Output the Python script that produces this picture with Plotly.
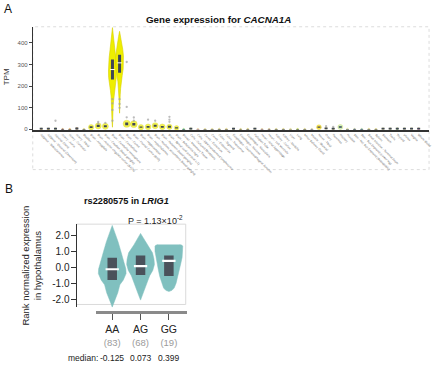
import plotly.graph_objects as go

W, H = 440, 365
def px(x): return x / W
def py(y): return 1 - y / H

FONT = "Liberation Sans, Arial, sans-serif"

# ---------------- Panel A data (GTEx, CACNA1A) ----------------
tissues = [
    "Adipose - Subcutaneous", "Adipose - Visceral (Omentum)", "Adrenal Gland",
    "Artery - Aorta", "Artery - Coronary", "Artery - Tibial", "Bladder",
    "Brain - Amygdala", "Brain - Anterior cingulate cortex (BA24)",
    "Brain - Caudate (basal ganglia)", "Brain - Cerebellar Hemisphere",
    "Brain - Cerebellum", "Brain - Cortex", "Brain - Frontal Cortex (BA9)",
    "Brain - Hippocampus", "Brain - Hypothalamus",
    "Brain - Nucleus accumbens (basal ganglia)", "Brain - Putamen (basal ganglia)",
    "Brain - Spinal cord (cervical c-1)", "Brain - Substantia nigra",
    "Breast - Mammary Tissue", "Cells - Cultured fibroblasts",
    "Cells - EBV-transformed lymphocytes", "Cervix - Ectocervix",
    "Cervix - Endocervix", "Colon - Sigmoid", "Colon - Transverse",
    "Esophagus - Gastroesophageal Junction", "Esophagus - Mucosa",
    "Esophagus - Muscularis", "Fallopian Tube", "Heart - Atrial Appendage",
    "Heart - Left Ventricle", "Kidney - Cortex", "Kidney - Medulla", "Liver",
    "Lung", "Minor Salivary Gland", "Muscle - Skeletal", "Nerve - Tibial",
    "Ovary", "Pancreas", "Pituitary", "Prostate",
    "Skin - Not Sun Exposed (Suprapubic)", "Skin - Sun Exposed (Lower leg)",
    "Small Intestine - Terminal Ileum", "Spleen", "Stomach", "Testis",
    "Thyroid", "Uterus", "Vagina", "Whole Blood",
]
tissue_colors = (
    ["#FFA54F", "#EE9A00", "#8FBC8F", "#8B1C62", "#EE6A50", "#FF0000", "#CDB79E"]
    + ["#EEEE00"] * 13
    + ["#00CDCD", "#9AC0CD", "#EE82EE", "#EED5D2", "#EED5D2", "#CDB79E", "#EEC591",
       "#8B7355", "#8B7355", "#CDAA7D", "#EED5D2", "#B452CD", "#7A378B", "#CDB79E",
       "#CDB79E", "#CDB79E", "#9ACD32", "#CDB79E", "#7A67EE", "#FFD700", "#FFB6C1",
       "#CD9B1D", "#B4EEB4", "#D9D9D9", "#3A5FCD", "#1E90FF", "#CDB79E", "#CDB79E",
       "#FFD39B", "#A6A6A6", "#008B45", "#EED5D2", "#EED5D2", "#FF00FF"]
)
tpm_median = [2, 2, 3, 0.5, 0.5, 4, 0.5,
              10, 16, 14, 277, 308, 26, 24, 10, 12, 17, 12, 12, 7,
              0.8, 3, 0.3, 0.5, 0.5, 0.8, 0.8, 2, 0.3, 0.8, 2, 0.3, 0.3, 0.5, 0.5,
              0.2, 0.5, 0.5, 0.2, 10, 5, 3, 11, 0.8, 0.5, 0.5, 0.8, 0.5, 3, 3, 3, 3, 3, 3]
tpm_q1 = [0, 0, 0, 0, 0, 0, 0,
          6, 11, 10, 231, 262, 19, 18, 7, 8, 12, 8, 8, 4,
          0, 0, 0, 0, 0, 0, 0, 0, 0, 0, 0, 0, 0, 0, 0,
          0, 0, 0, 0, 7, 1, 0, 8, 0, 0, 0, 0, 0, 0, 0, 0, 0, 0, 0]
tpm_q3 = [7, 7, 8, 1.5, 1.5, 9, 1.5,
          14, 22, 19, 323, 346, 32, 30, 13, 16, 22, 16, 17, 10,
          1.5, 8, 1, 1.5, 1.5, 1.5, 1.5, 7, 1, 1.5, 7, 1, 1, 1.5, 1.5,
          1, 1.5, 1.5, 1, 13, 9, 8, 14, 1.5, 1.5, 1.5, 1.5, 1.5, 8, 8, 8, 8, 8, 8]
violin_spread = [3, 3, 3, 2, 2, 3, 2,
                 20, 24, 24, 0, 0, 30, 28, 20, 22, 24, 22, 20, 16,
                 2, 3, 2, 2, 2, 2, 2, 3, 2, 2, 3, 2, 2, 2, 2,
                 2, 2, 2, 2, 18, 3, 3, 18, 2, 2, 2, 2, 2, 3, 3, 3, 3, 3, 3]
outlier_tissue = [2, 8, 8, 9, 10, 10, 10, 10, 11, 11, 11, 12, 12, 12,
                  13, 13, 15, 16, 18, 18, 18, 40, 41]
outlier_tpm = [40, 35, 28, 30, 140, 120, 90, 40, 140, 118, 100, 312, 104,
               56, 55, 40, 45, 40, 58, 45, 35, 15, 12]

# Large cerebellar violins (profile)
hemi_tpm = [471, 445, 410, 370, 330, 300, 270, 240, 210, 180, 150, 120, 90, 60, 30, 10]
hemi_density = [0, 0.19, 0.37, 0.6, 0.84, 0.98, 1.0, 0.96, 0.74, 0.51, 0.33, 0.21,
                0.14, 0.12, 0.09, 0]
cbl_tpm = [454, 430, 400, 370, 340, 310, 280, 250, 220, 190, 160, 130, 100, 75]
cbl_density = [0, 0.25, 0.5, 0.8, 0.97, 1.0, 0.9, 0.66, 0.42, 0.27, 0.16, 0.1, 0.06, 0]
big_violins = {10: (hemi_tpm, hemi_density), 11: (cbl_tpm, cbl_density)}

# ---------------- Panel B data (rs2280575 / LRIG1) ----------------
genotypes = ["AA", "AG", "GG"]
genotype_n = [83, 68, 19]
geno_median = [-0.125, 0.073, 0.399]
geno_q1 = [-0.80, -0.49, -0.55]
geno_q3 = [0.59, 0.73, 0.73]
aa_y = [2.62, 2.3, 2.0, 1.6, 1.0, 0.6, 0.2, -0.1, -0.4, -0.8, -1.1, -1.6, -2.0, -2.3, -2.5]
aa_density = [0, 0.14, 0.27, 0.42, 0.62, 0.73, 0.88, 0.98, 1.0, 0.8, 0.55, 0.4, 0.22, 0.08, 0]
ag_y = [2.12, 1.8, 1.4, 0.9, 0.5, 0.17, -0.2, -0.53, -0.85, -1.15, -1.5, -1.77, -2.06]
ag_density = [0, 0.22, 0.48, 0.86, 0.97, 1.0, 0.88, 0.66, 0.52, 0.4, 0.25, 0.13, 0]
gg_y = [1.42, 1.38, 1.3, 1.0, 0.6, 0.2, -0.2, -0.6, -1.0, -1.3, -1.45, -1.52]
gg_density = [0.78, 0.95, 1.0, 1.0, 0.95, 0.85, 0.75, 0.65, 0.52, 0.38, 0.22, 0]
geno_profiles = [(aa_y, aa_density), (ag_y, ag_density), (gg_y, gg_density)]

fig = go.Figure()

# ---- Panel A traces ----
A_HALF = 0.56
for idx, (yy, dd) in big_violins.items():
    xs = [idx + d * A_HALF for d in dd] + [idx - d * A_HALF for d in dd[::-1]]
    ys = list(yy) + list(yy[::-1])
    fig.add_trace(go.Scatter(x=xs, y=ys, fill="toself", fillcolor="#EEEE00",
                             line=dict(color="#d6d000", width=0.6), mode="lines",
                             xaxis="x", yaxis="y", hoverinfo="skip"))

small_idx = [i for i in range(len(tissues)) if i not in big_violins]
fig.add_trace(go.Scatter(
    x=small_idx, y=[tpm_median[i] for i in small_idx], mode="markers",
    marker=dict(size=[1.5 + violin_spread[i] * 0.19 for i in small_idx],
                color=[tissue_colors[i] for i in small_idx],
                line=dict(width=0.4, color="#c8c400")),
    xaxis="x", yaxis="y", hoverinfo="skip"))

fig.add_trace(go.Scatter(
    x=outlier_tissue, y=outlier_tpm, mode="markers",
    marker=dict(size=2.3, color="#a0a0a0", opacity=0.7),
    xaxis="x", yaxis="y", hoverinfo="skip"))

bx, by = [], []
for i in range(len(tissues)):
    bx += [i, i, None]
    by += [tpm_q1[i], tpm_q3[i], None]
fig.add_trace(go.Scatter(x=bx, y=by, mode="lines",
                         line=dict(color="#3f4756", width=3),
                         xaxis="x", yaxis="y", hoverinfo="skip"))
wide = [i for i in range(len(tissues)) if tpm_q3[i] - tpm_q1[i] > 20]
fig.add_trace(go.Scatter(x=wide, y=[tpm_median[i] for i in wide], mode="markers",
                         marker=dict(symbol="line-ew", size=3.2,
                                     line=dict(color="white", width=1)),
                         xaxis="x", yaxis="y", hoverinfo="skip"))

# ---- Panel B traces ----
B_HALF = 0.49
for g, (yy, dd) in enumerate(geno_profiles):
    xs = [g + d * B_HALF for d in dd] + [g - d * B_HALF for d in dd[::-1]]
    ys = list(yy) + list(yy[::-1])
    fig.add_trace(go.Scatter(x=xs, y=ys, fill="toself", fillcolor="#80c0bf",
                             line=dict(color="#80c0bf", width=0.5), mode="lines",
                             xaxis="x2", yaxis="y2", hoverinfo="skip"))
gbx, gby = [], []
for g in range(len(genotypes)):
    gbx += [g, g, None]
    gby += [geno_q1[g], geno_q3[g], None]
fig.add_trace(go.Scatter(x=gbx, y=gby, mode="lines",
                         line=dict(color="#4a525b", width=9.5),
                         xaxis="x2", yaxis="y2", hoverinfo="skip"))
fig.add_trace(go.Scatter(x=list(range(len(genotypes))), y=geno_median, mode="markers",
                         marker=dict(symbol="line-ew", size=9.5,
                                     line=dict(color="white", width=2.2)),
                         xaxis="x2", yaxis="y2", hoverinfo="skip"))

# ---- Axes ----
A_y0, A_y1 = 131, 27
B_y0, B_y1 = 310, 226
fig.update_layout(
    width=W, height=H, margin=dict(l=0, r=0, t=0, b=0),
    paper_bgcolor="white", plot_bgcolor="rgba(0,0,0,0)",
    showlegend=False, font=dict(family=FONT, color="#222"),
    xaxis=dict(domain=[px(33), px(432)], range=[-1.19, 54.46], anchor="y",
               tickmode="array", tickvals=list(range(len(tissues))), ticktext=tissues,
               tickangle=45, tickfont=dict(size=3, color="#666"),
               showline=True, linecolor="#333", linewidth=2, ticks="",
               showgrid=False, zeroline=False),
    yaxis=dict(domain=[py(A_y0), py(A_y1)], range=[-2.5, 475], anchor="x",
               tickmode="array", tickvals=[0, 100, 200, 300, 400],
               ticks="outside", ticklen=3, tickcolor="#444",
               tickfont=dict(size=6, color="#555"),
               showline=True, linecolor="#333", linewidth=1,
               showgrid=False, zeroline=False),
    xaxis2=dict(domain=[px(97), px(188)], range=[-0.561, 2.63], anchor="free",
                position=py(315), tickmode="array", tickvals=[0, 1, 2],
                ticktext=[f"{g}<br><span style='color:#9b9b9b;font-size:9.5px'>({n})</span>"
                          for g, n in zip(genotypes, genotype_n)],
                ticks="outside", ticklen=6, tickcolor="#555", tickwidth=1.2,
                tickfont=dict(size=10.5, color="#222"),
                showline=True, linecolor="#8a8a8a", linewidth=2.5,
                showgrid=False, zeroline=False),
    yaxis2=dict(domain=[py(B_y0), py(B_y1)], range=[-2.52, 2.70], anchor="free",
                position=px(77), tickmode="array", tickvals=[2, 1, 0, -1, -2],
                ticktext=["2.0", "1.0", "0.0", "-1.0", "-2.0"],
                ticks="outside", ticklen=5, tickcolor="#333",
                tickfont=dict(size=10, color="#222"),
                showline=True, linecolor="#333", linewidth=1,
                showgrid=False, zeroline=False),
)

# ---- Frames ----
fig.add_shape(type="rect", xref="paper", yref="paper",
              x0=px(33), x1=px(432), y0=py(171), y1=py(27),
              line=dict(color="#dcdcdc", width=1, dash="dot"), layer="below")
fig.add_shape(type="rect", xref="paper", yref="paper",
              x0=px(77), x1=px(187), y0=py(307), y1=py(226),
              line=dict(color="#dadada", width=1), layer="below")

# ---- Text ----
ann = [
    dict(text="A", x=px(2), y=py(9), xanchor="left", font=dict(size=12, color="#111")),
    dict(text="<b>Gene expression for <i>CACNA1A</i></b>", x=px(220.5), y=py(20),
         font=dict(size=9.8, color="#111")),
    dict(text="TPM", x=px(6), y=py(77), textangle=-90, font=dict(size=8, color="#333")),
    dict(text="B", x=px(3), y=py(191), xanchor="left", font=dict(size=12, color="#111")),
    dict(text="<b>rs2280575 in <i>LRIG1</i></b>", x=px(127.5), y=py(203),
         font=dict(size=9.2, color="#111")),
    dict(text="P = 1.13×10<sup>-2</sup>", x=px(157), y=py(222),
         font=dict(size=9, color="#222")),
    dict(text="Rank normalized expression<br>in hypothalamus", x=px(32), y=py(268),
         textangle=-90, font=dict(size=9.5, color="#222")),
    dict(text="median:", x=px(101), y=py(361), xanchor="right",
         font=dict(size=8.5, color="#222")),
]
for a in ann:
    a.setdefault("xanchor", "center")
    fig.add_annotation(xref="paper", yref="paper", showarrow=False,
                       yanchor="middle", **a)
for g, m in enumerate(geno_median):
    fig.add_annotation(xref="x2", yref="paper", x=g, y=py(361), showarrow=False,
                       text=f"{m:.3f}", font=dict(size=8.5, color="#222"),
                       xanchor="center", yanchor="middle")

fig.write_html("out.html", config={"displayModeBar": False, "staticPlot": True},
               post_script="document.body.style.margin='0';document.body.style.overflow='hidden';")
